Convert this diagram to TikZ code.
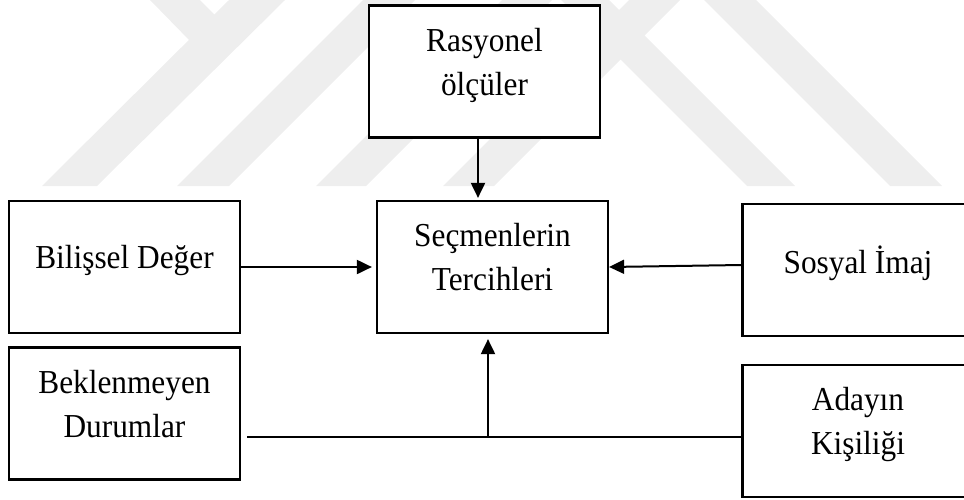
\documentclass[tikz,border=0pt]{standalone}
\usepackage{fontspec}
\setmainfont{Liberation Serif}[FakeStretch=0.935]
\usetikzlibrary{arrows.meta,positioning}

\definecolor{logogray}{RGB}{238,238,238}
\newcommand{\lstrut}{\rule[-20pt]{0pt}{40pt}}

\begin{document}
\begin{tikzpicture}[x=1pt, y=-1pt, on grid,
    box/.style={draw, fill=white, line width=2.2pt, minimum width=231pt, minimum height=132pt,
                align=center, font=\fontsize{33.5}{40}\selectfont},
    arr/.style={-{Triangle[length=15pt,width=14pt]}, line width=2pt}]
  \useasboundingbox (0,0) rectangle (964,499);

  % faded logo behind the boxes
  \fill[logogray] (42,186) -- (97,186) -- (285,0) -- (229,0) -- cycle;
  \fill[logogray] (150,0) -- (200,0) -- (222,22) -- (192,43) -- cycle;
  \fill[logogray] (177,186) -- (229,186) -- (415,0) -- (363,0) -- cycle;
  \fill[logogray] (316,186) -- (366,186) -- (552,0) -- (502,0) -- cycle;
  \fill[logogray] (443,186) -- (494,186) -- (680,0) -- (629,0) -- cycle;
  \fill[logogray] (747,186) -- (795,186) -- (609,0) -- (561,0) -- cycle;
  \fill[logogray] (890,186) -- (942,186) -- (756,0) -- (704,0) -- cycle;

  \node[box] (secmen) at (492.5,267) {\lstrut Seçmenlerin\\\lstrut Tercihleri};
  \node[box] (rasyonel) [above=195.5pt of secmen, xshift=-8pt] {\lstrut Rasyonel\\\lstrut ölçüler};
  \node[box] (bilissel) [left=368pt of secmen] {\lstrut Bilişsel Değer};
  \node[box] (sosyal) [right=365.5pt of secmen, yshift=-3pt] {\lstrut Sosyal İmaj};
  \node[box] (beklenmeyen) [below=146.5pt of bilissel] {\lstrut Beklenmeyen\\\lstrut Durumlar};
  \node[box] (adayin) [below=161pt of sosyal] {\lstrut Adayın\\\lstrut Kişiliği};

  \coordinate (join) at (488,437);

  \draw[arr, shorten >=2pt] ([xshift=-6.5pt]rasyonel.south) -- ([xshift=-14.5pt]secmen.north);
  \draw[arr, shorten >=4pt] (bilissel.east) -- (secmen.west);
  \draw[arr] ([yshift=5pt]sosyal.west) -- (secmen.east);
  \draw[line width=1.2pt, shorten <=6pt] (join -| beklenmeyen.east) -- (join -| adayin.west);
  \draw[arr, shorten >=5pt] (join) -- (join |- secmen.south);
\end{tikzpicture}
\end{document}
